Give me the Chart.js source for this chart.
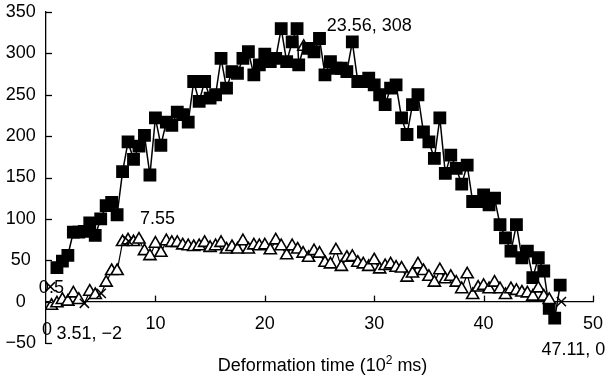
<!DOCTYPE html>
<html><head><meta charset="utf-8">
<script src="https://cdn.jsdelivr.net/npm/chart.js@4/dist/chart.umd.min.js"></script>
<style>html,body{margin:0;padding:0;background:#fff}canvas{display:block}</style>
</head><body>
<canvas id="c" width="609" height="379"></canvas>
<script>
// ---- data ----
const squareX = [1,1.5,2,2.5,3,3.5,4,4.5,5,5.5,6,6.5,7,7.5,8,8.5,9,9.5,10,10.5,11,11.5,12,12.5,13,13.5,14,14.5,15,15.5,16,16.5,17,17.5,18,18.5,19,19.5,20,20.5,21,21.5,22,22.5,22.95,23.1,23.56,24,24.5,25,25.5,26,26.5,27,27.5,28,28.5,29,29.5,30,30.5,31,31.5,32,32.5,33,33.5,34,34.5,35,35.5,36,36.5,37,37.5,38,38.5,39,39.5,40,40.5,41,41.5,42,42.5,43,43.5,44,44.5,45,45.5,46,46.5,47];
const squareY = [41,49,56,84,84,85,95,80,100,116,120,105,157,193,172,188,201,153,222,189,217,213,229,226,217,266,242,266,246,250,294,258,278,276,294,302,274,286,299,290,294,330,290,314,330,286,308,306,302,318,274,290,282,282,278,314,266,266,270,262,250,238,258,262,222,202,238,250,205,193,173,222,155,177,161,142,165,121,121,129,117,125,93,77,61,93,53,61,29,53,37,-8,-20,20];
const triangleX = [0.5,1,1.5,2,2.5,3,3.51,4,4.5,5.05,5.5,6,6.5,7,7.5,8,8.5,9,9.5,10,10.5,11,11.5,12,12.5,13,13.5,14,14.5,15,15.5,16,16.5,17,17.5,18,18.5,19,19.5,20,20.5,21,21.5,22,22.5,23,23.5,24,24.5,25,25.5,26,26.5,27,27.5,28,28.5,29,29.5,30,30.5,31,31.5,32,32.5,33,33.5,34,34.5,35,35.5,36,36.5,37,37.5,38,38.5,39,39.5,40,40.5,41,41.5,42,42.5,43,43.5,44,44.5,45,45.5,46];
const triangleY = [-5,-2,2,0,10,2,-2,12,8,10,23,37,37,72,74,72,75,61,55,70,59,73,71,71,68,67,66,67,71,65,67,71,63,66,63,73,63,68,67,68,62,74,67,56,67,63,58,53,61,58,47,45,62,42,53,54,47,45,42,50,39,43,45,41,40,29,34,45,37,30,23,38,27,30,23,15,33,8,17,19,15,23,15,8,15,13,11,10,6,16,6,2];
const crossX = [0.4,3.51,5.05,7.55,47.11];
const crossY = [18,-2,10,73,0];
const peakX = 23.56;
const xTickValues = [0,10,20,30,40,50];
const yTickValues = [-50,0,50,100,150,200,250,300,350];
const pointLabels = [
  {text:'23.56, 308', x:23.56, y:308},
  {text:'7.55', x:7.55, y:73},
  {text:'0.5', x:0.4, y:18},
  {text:'3.51, \u22122', x:3.51, y:-2},
  {text:'47.11, 0', x:47.11, y:0},
  {text:'0', x:0, y:0}
];
const xTitle = ['Deformation time (10', '2', ' ms)'];

const FONT = '"Liberation Sans", Arial, sans-serif';
const toPts = (xs, ys) => xs.map((v, i) => ({x: v, y: ys[i]}));

// label offsets in pixels relative to their anchor point (layout, not data)
const labelOffsets = {
  '23.56, 308': [23, -21, 'left'],
  '7.55': [29, -22, 'center'],
  '0.5': [1, 1, 'center'],
  '3.51, \u22122': [-28, 31, 'left'],
  '47.11, 0': [12, 48, 'center'],
  '0': [1, 28, 'center']
};

const decor = {
  id: 'decor',
  afterDraw(chart) {
    const {ctx, scales: {x, y}} = chart;
    ctx.save();
    ctx.strokeStyle = '#000';
    ctx.lineWidth = 1.3;
    const y0 = y.getPixelForValue(0);
    xTickValues.forEach(v => {
      if (v === 0) return;
      const px = Math.round(x.getPixelForValue(v)) + 0.5;
      ctx.beginPath(); ctx.moveTo(px, y0); ctx.lineTo(px, y0 - 6); ctx.stroke();
    });
    const lx = x.left;
    yTickValues.forEach(v => {
      const py = Math.round(y.getPixelForValue(v)) + 0.5;
      ctx.beginPath(); ctx.moveTo(lx, py); ctx.lineTo(lx + 6, py); ctx.stroke();
    });
    ctx.fillStyle = '#000';
    ctx.font = '18px ' + FONT;
    ctx.textBaseline = 'middle';
    pointLabels.forEach(l => {
      const o = labelOffsets[l.text];
      ctx.textAlign = o[2];
      ctx.fillText(l.text, x.getPixelForValue(l.x) + o[0], y.getPixelForValue(l.y) + o[1]);
    });
    // axis title with superscript
    ctx.textBaseline = 'alphabetic';
    ctx.textAlign = 'left';
    ctx.font = '18px ' + FONT;
    const w1 = ctx.measureText(xTitle[0]).width;
    const w3 = ctx.measureText(xTitle[2]).width;
    ctx.font = '12px ' + FONT;
    const w2 = ctx.measureText(xTitle[1]).width;
    const total = w1 + w2 + w3;
    const cx = (x.left + x.right) / 2 + 3;
    let sx = cx - total / 2;
    const base = 371;
    ctx.font = '18px ' + FONT;
    ctx.fillText(xTitle[0], sx, base);
    ctx.font = '12px ' + FONT;
    ctx.fillText(xTitle[1], sx + w1, base - 7);
    ctx.font = '18px ' + FONT;
    ctx.fillText(xTitle[2], sx + w1 + w2, base);
    ctx.restore();
  }
};

new Chart(document.getElementById('c'), {
  type: 'scatter',
  data: {
    datasets: [
      {
        label: 'cross',
        data: toPts(crossX, crossY),
        showLine: false,
        pointStyle: 'crossRot',
        pointRadius: 6.5,
        pointBorderWidth: 1.5,
        borderColor: '#000',
        backgroundColor: '#000',
        order: 0
      },
      {
        label: 'squares',
        data: toPts(squareX, squareY),
        showLine: true,
        borderColor: '#000',
        borderWidth: 1.5,
        pointStyle: c => (c.raw && c.raw.x === peakX) ? 'triangle' : 'rect',
        pointRadius: c => (c.raw && c.raw.x === peakX) ? 7 : 8,
        pointBackgroundColor: c => (c.raw && c.raw.x === peakX) ? '#fff' : '#000',
        pointBorderColor: '#000',
        pointBorderWidth: 1.5,
        order: 2
      },
      {
        label: 'triangles',
        data: toPts(triangleX, triangleY),
        showLine: true,
        borderColor: '#000',
        borderWidth: 1.2,
        pointStyle: 'triangle',
        pointRadius: c => (c.raw && crossX.includes(c.raw.x)) ? 0 : 7,
        pointBackgroundColor: '#fff',
        pointBorderColor: '#000',
        pointBorderWidth: 1.6,
        order: 1
      }
    ]
  },
  options: {
    responsive: false,
    animation: false,
    devicePixelRatio: 1,
    layout: {autoPadding: false, padding: {top: 12, right: 16, bottom: 36, left: 0}},
    plugins: {legend: {display: false}, tooltip: {enabled: false}},
    scales: {
      x: {
        type: 'linear',
        position: {y: 0},
        min: 0, max: 50,
        afterFit: s => { s.height = 0; s.paddingLeft = 0; s.paddingRight = 0; },
        afterBuildTicks: s => { s.ticks = xTickValues.map(v => ({value: v})); },
        grid: {drawOnChartArea: false, drawTicks: false},
        border: {color: '#000', width: 1.3},
        ticks: {
          color: '#000', font: {size: 18, family: FONT}, padding: 12, maxRotation: 0,
          callback: v => v === 0 ? '' : String(v)
        },
        title: {display: false}
      },
      y: {
        type: 'linear',
        min: -50, max: 350,
        afterFit: s => { s.width = 46; s.paddingTop = 0; s.paddingBottom = 0; },
        afterBuildTicks: s => { s.ticks = yTickValues.map(v => ({value: v})); },
        grid: {drawOnChartArea: false, drawTicks: false},
        border: {color: '#000', width: 1.3},
        ticks: {
          color: '#000', font: {size: 18, family: FONT}, padding: 10, crossAlign: 'center',
          callback: v => v < 0 ? '\u2212' + Math.abs(v) : String(v)
        }
      }
    }
  },
  plugins: [decor]
});
</script>
</body></html>
